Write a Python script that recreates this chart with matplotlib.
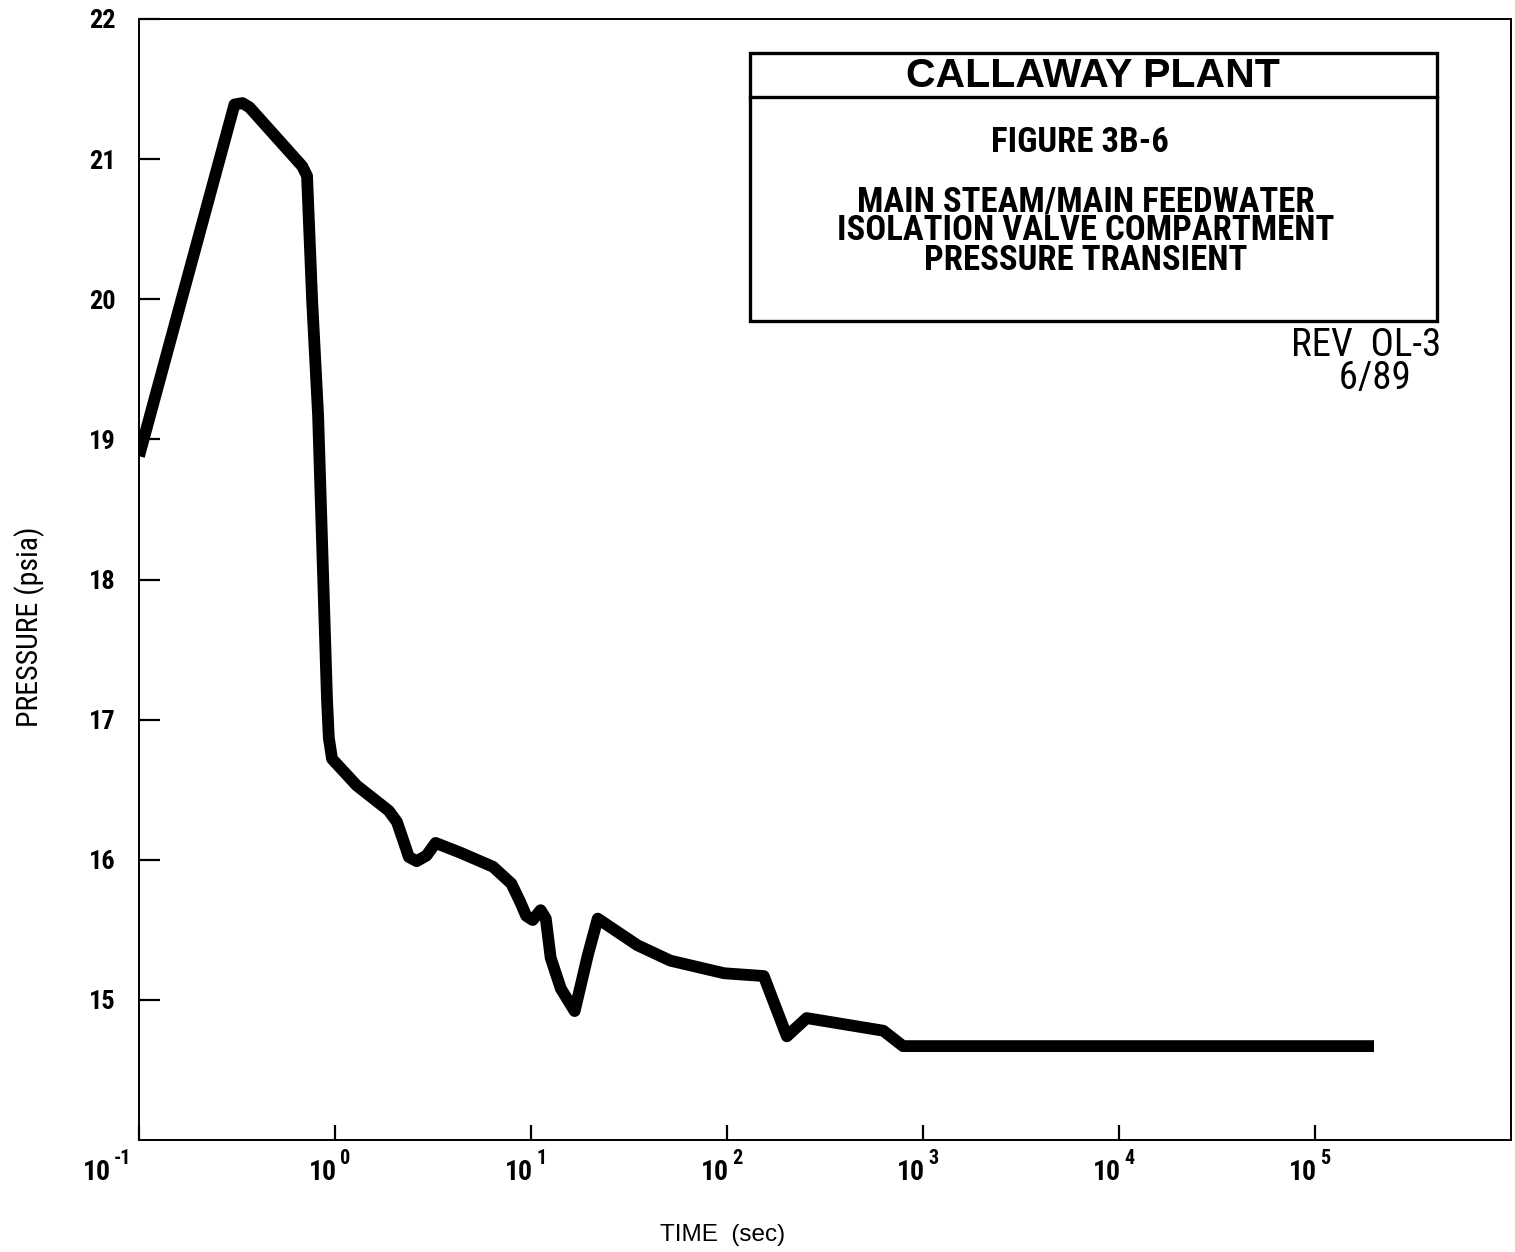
import matplotlib
matplotlib.use('Agg')
import matplotlib.pyplot as plt
import matplotlib.transforms as mtransforms
from matplotlib import font_manager
from matplotlib.patches import Rectangle
from matplotlib.lines import Line2D
from matplotlib.ticker import NullLocator

# compartment pressure transient, time in seconds vs pressure in psia
time_s = [0.1, 0.307, 0.337, 0.366, 0.68, 0.72, 0.764, 0.82, 0.91, 0.93,
          0.966, 1.29, 1.88, 2.07, 2.24, 2.38, 2.61, 2.93, 3.26, 4.37,
          6.4, 7.94, 8.8, 9.45, 10.2, 11.2, 11.9, 12.6, 14.2, 16.7,
          19.5, 21.9, 34.9, 51.4, 96.6, 154, 202, 255, 627, 791, 2.0e5]
pressure = [18.88, 21.39, 21.40, 21.37, 20.95, 20.88, 20.0, 19.17, 17.15, 16.87,
            16.72, 16.53, 16.35, 16.27, 16.13, 16.02, 15.99, 16.03, 16.12, 16.05,
            15.95, 15.83, 15.70, 15.60, 15.57, 15.64, 15.58, 15.30, 15.08, 14.92,
            15.32, 15.58, 15.39, 15.28, 15.19, 15.17, 14.74, 14.87, 14.78, 14.67, 14.67]

x_ticks = [0.1, 1, 10, 100, 1000, 1e4, 1e5]
x_exps = ['-1', '0', '1', '2', '3', '4', '5']
y_ticks = [15, 16, 17, 18, 19, 20, 21, 22]

box_title = 'CALLAWAY PLANT'
box_figure = 'FIGURE 3B-6'
box_caption = ['MAIN STEAM/MAIN FEEDWATER', 'ISOLATION VALVE COMPARTMENT',
               'PRESSURE TRANSIENT']
rev_note = ['REV  OL-3', '  6/89']


def pick_condensed():
    have = {f.name for f in font_manager.fontManager.ttflist}
    for name in ['Roboto Condensed', 'Archivo Narrow', 'Liberation Sans Narrow']:
        if name in have:
            return name
    return 'Liberation Sans'


def main():
    cond = pick_condensed()
    plt.rcParams['font.family'] = ['Liberation Sans', 'DejaVu Sans']
    narrow = [cond, 'DejaVu Sans']

    W, H = 1515, 1252
    fig = plt.figure(figsize=(W / 100, H / 100), dpi=100)
    ax = fig.add_axes([139 / W, 1 - 1140 / H, (1511 - 139) / W, (1140 - 19) / H])

    ax.plot(time_s, pressure, color='k', linewidth=8.5,
            solid_joinstyle='round', solid_capstyle='butt')

    ax.set_xscale('log')
    ax.set_xlim(0.1, 1e6)
    ax.set_ylim(14, 22)
    ax.set_xticks(x_ticks)
    ax.xaxis.set_minor_locator(NullLocator())
    ax.set_yticks(y_ticks)
    ax.set_yticklabels([str(v) for v in y_ticks])

    ax.tick_params(axis='x', direction='in', length=11, width=1.6,
                   labelbottom=False)
    ax.tick_params(axis='y', direction='in', length=15, width=1.6,
                   labelsize=19, pad=17)
    for lab in ax.get_yticklabels():
        lab.set_family(narrow)
        lab.set_weight('semibold')
    for s in ax.spines.values():
        s.set_linewidth(1.4)

    # decade labels: "10" with a raised exponent beside it
    xform = mtransforms.blended_transform_factory(ax.transData, ax.transAxes)
    for t, e in zip(x_ticks, x_exps):
        shift = -28 if e.startswith('-') else 2
        base = mtransforms.offset_copy(xform, fig=fig, x=shift * 0.72, y=-33 * 0.72,
                                       units='points')
        sup = mtransforms.offset_copy(xform, fig=fig, x=(shift + 3) * 0.72,
                                      y=-19 * 0.72, units='points')
        ax.text(t, 0, '10', transform=base, ha='right', va='center',
                fontsize=20, family=narrow, fontweight='semibold')
        ax.text(t, 0, e, transform=sup, ha='left', va='center',
                fontsize=14.5, family=narrow, fontweight='semibold')

    fig.text(723 / W, 1 - 1235 / H, 'TIME  (sec)', ha='center', va='center',
             fontsize=17.5)
    fig.text(30 / W, 1 - 627 / H, 'PRESSURE (psia)', ha='center', va='center',
             rotation=90, fontsize=21.5, family=narrow)

    # title block
    bx0, bx1, by0, by1 = 750 / W, 1437 / W, 1 - 321 / H, 1 - 53 / H
    fig.patches.append(Rectangle((bx0, by0), bx1 - bx0, by1 - by0, fill=False,
                                 linewidth=2.4, edgecolor='k',
                                 transform=fig.transFigure))
    fig.lines.append(Line2D([bx0, bx1], [1 - 97 / H, 1 - 97 / H], color='k',
                            linewidth=2.4, transform=fig.transFigure))
    fig.text(1093 / W, 1 - 76 / H, box_title, ha='center', va='center',
             fontsize=29.5, fontweight='bold')
    fig.text(1080 / W, 1 - 142 / H, box_figure, ha='center', va='center',
             fontsize=25, fontweight='bold', family=narrow)
    fig.text(1086 / W, 1 - 231 / H, '\n'.join(box_caption), ha='center',
             va='center', multialignment='center', linespacing=0.86,
             fontsize=25, fontweight='bold', family=narrow)

    fig.text(1366 / W, 1 - 362 / H, '\n'.join(rev_note), ha='center', va='center',
             multialignment='center', linespacing=0.86, fontsize=28,
             family=narrow)

    fig.savefig('out.png', dpi=100)


if __name__ == '__main__':
    main()
